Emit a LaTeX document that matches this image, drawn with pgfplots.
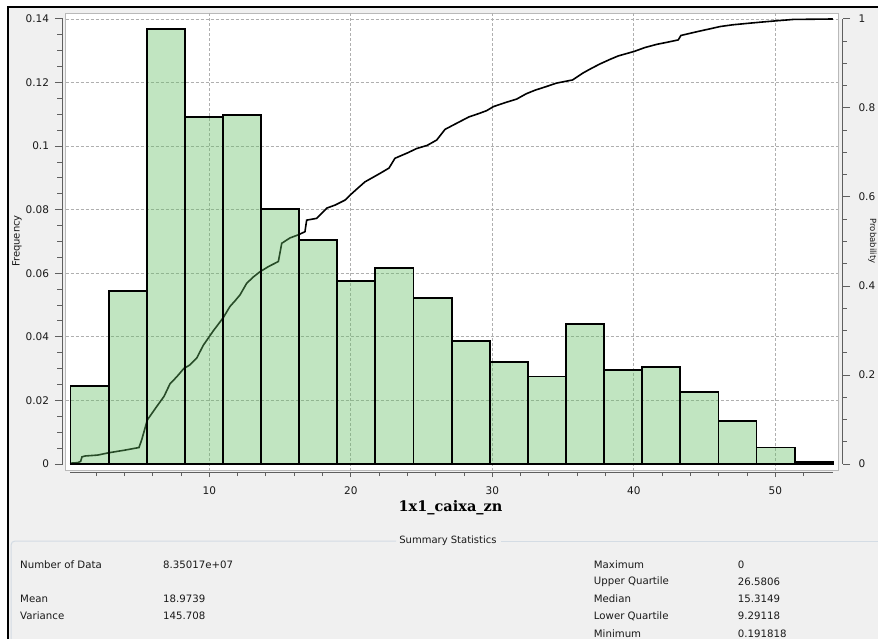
\documentclass[border=0pt]{standalone}
\usepackage{fontspec}
\setmainfont{DejaVu Sans}
\newfontfamily\xlfont{DejaVu Serif}
\usepackage{pgfplots}
\usepackage{pgfplotstable}
\pgfplotsset{compat=1.18}
\definecolor{bggray}{RGB}{240,240,240}
\definecolor{axgray}{RGB}{95,95,95}
\definecolor{gridgray}{RGB}{175,175,175}
\definecolor{txt}{RGB}{25,25,25}
\definecolor{barfill}{RGB}{100,190,100}
\definecolor{boxline}{RGB}{212,220,228}
\definecolor{framegray}{RGB}{185,185,185}

\pgfplotstableread{
x y
0.19 0.0246
2.8835 0.0544
5.577 0.1368
8.2705 0.1092
10.964 0.1097
13.6575 0.0802
16.351 0.0705
19.0445 0.0575
21.738 0.0617
24.4315 0.0522
27.125 0.0388
29.8185 0.0322
32.512 0.0275
35.2055 0.0440
37.899 0.0295
40.5925 0.0304
43.286 0.0226
45.9795 0.0136
48.673 0.0052
51.3665 0.0006
54.06 0
}\histdata

\pgfplotstableread{
x p
0.19 0.000
0.23 0.002
0.70 0.003
0.91 0.006
1.00 0.016
1.22 0.018
2.10 0.020
2.86 0.025
4.00 0.031
5.03 0.037
5.22 0.054
5.62 0.099
6.28 0.129
6.80 0.152
7.22 0.180
7.70 0.196
8.21 0.215
8.60 0.222
9.11 0.238
9.58 0.267
10.30 0.300
10.99 0.329
11.46 0.354
11.80 0.366
12.17 0.380
12.64 0.406
13.10 0.420
13.58 0.432
14.20 0.444
14.88 0.455
15.12 0.496
15.70 0.508
16.29 0.515
16.76 0.522
16.88 0.548
17.59 0.552
18.30 0.575
18.90 0.582
19.59 0.593
20.08 0.608
20.50 0.620
21.00 0.634
22.06 0.653
22.70 0.665
23.12 0.687
24.00 0.699
24.66 0.709
25.40 0.716
26.07 0.728
26.66 0.752
27.50 0.766
28.35 0.780
29.00 0.787
29.60 0.794
30.07 0.803
30.90 0.812
31.72 0.820
32.40 0.832
33.02 0.840
33.80 0.848
34.55 0.856
35.67 0.863
36.43 0.879
37.00 0.889
37.61 0.899
38.30 0.909
38.90 0.917
40.01 0.927
40.80 0.936
41.62 0.943
42.40 0.948
43.14 0.953
43.33 0.963
44.00 0.968
44.68 0.973
45.40 0.978
46.09 0.983
47.00 0.987
47.98 0.990
49.00 0.993
50.10 0.996
51.27 0.999
54.06 1.000
}\cdfdata

\begin{document}
\begin{tikzpicture}
\useasboundingbox (0pt,0pt) rectangle (878pt,-639pt);
\clip (0pt,0pt) rectangle (878pt,-639pt);
\fill[white] (0pt,0pt) rectangle (878pt,-639pt);
\fill[bggray] (8pt,-7pt) rectangle (878pt,-639pt);
\draw[black, line width=2pt] (8pt,-639pt) -- (8pt,-7pt) -- (878pt,-7pt);
\filldraw[fill=white, draw=framegray, line width=1.2pt] (65.7pt,-13.3pt) rectangle (838.3pt,-470.7pt);

% grid
\begin{axis}[
  at={(65.7pt,-470.7pt)}, anchor=south west,
  width=772.6pt, height=457.4pt, scale only axis,
  xmin=-0.148, xmax=54.452, ymin=-0.002108, ymax=0.14179,
  xtick={10,20,30,40,50}, ytick={0.02,0.04,0.06,0.08,0.1,0.12,0.14},
  xticklabels={}, yticklabels={},
  major tick length=0pt,
  tick style={draw=none},
  axis line style={draw=none},
  grid=major,
  major grid style={gridgray, dash pattern=on 3pt off 2pt, line width=0.9pt},
]
\addplot[draw=none] coordinates {(1,0)};
\end{axis}

% CDF + right axis
\begin{axis}[
  at={(70.49pt,-464pt)}, anchor=south west,
  width=762.26pt, height=445pt, scale only axis,
  xmin=0.19, xmax=54.06, ymin=0, ymax=1,
  axis x line=none,
  axis y line*=right,
  axis y line shift=9.95pt,
  ytick={0,0.2,0.4,0.6,0.8,1},
  yticklabels={0,0.2,0.4,0.6,0.8,1},
  minor ytick={0.05,0.1,0.15,0.25,0.3,0.35,0.45,0.5,0.55,0.65,0.7,0.75,0.85,0.9,0.95},
  tick align=outside,
  major tick length=7.3pt, minor tick length=4pt,
  axis line style={draw=axgray, line width=1.2pt},
  tick style={draw=axgray, line width=1pt},
  yticklabel style={font=\fontsize{10.5}{12}\selectfont, text=txt, xshift=5pt},
  clip=false,
]
\addplot[black, line width=1.6pt] table[x=x, y=p] {\cdfdata};
\end{axis}

% bars + x axis
\begin{axis}[
  at={(70.49pt,-464pt)}, anchor=south west,
  width=762.26pt, height=445pt, scale only axis,
  xmin=0.19, xmax=54.06, ymin=0, ymax=0.14,
  axis x line*=bottom, axis y line=none,
  axis x line shift=8.7pt,
  xtick={10,20,30,40,50}, xticklabels={10,20,30,40,50},
  minor xtick={2,4,6,8,12,14,16,18,22,24,26,28,32,34,36,38,42,44,46,48,52},
  tick align=outside,
  major tick length=4.5pt, minor tick length=3.5pt,
  axis line style={draw=axgray, line width=1.2pt},
  tick style={draw=axgray, line width=1pt},
  xticklabel style={font=\fontsize{10.5}{12}\selectfont, text=txt, yshift=-6pt},
  clip=false,
]
\addplot[ybar interval, fill=barfill, fill opacity=0.4, draw=black, line width=1.8pt] table[x=x, y=y] {\histdata};
\end{axis}

% left axis
\begin{axis}[
  at={(70.49pt,-464pt)}, anchor=south west,
  width=762.26pt, height=445pt, scale only axis,
  xmin=0.19, xmax=54.06, ymin=0, ymax=0.14,
  axis x line=none, axis y line*=left,
  axis y line shift=7.8pt,
  ytick={0,0.02,0.04,0.06,0.08,0.1,0.12,0.14},
  yticklabels={0,0.02,0.04,0.06,0.08,0.1,0.12,0.14},
  minor ytick={0.005,0.01,0.015,0.025,0.03,0.035,0.045,0.05,0.055,0.065,0.07,0.075,0.085,0.09,0.095,0.105,0.11,0.115,0.125,0.13,0.135},
  tick align=outside,
  major tick length=7.7pt, minor tick length=5.4pt,
  axis line style={draw=axgray, line width=1.2pt},
  tick style={draw=axgray, line width=1pt},
  yticklabel style={font=\fontsize{10.5}{12}\selectfont, text=txt, xshift=-2.5pt},
]
\addplot[draw=none] coordinates {(1,0)};
\end{axis}

% labels
\node[font=\fontsize{10}{12}\selectfont, text=txt, rotate=90] at (17pt,-241pt) {Frequency};
\node[font=\fontsize{8.5}{10}\selectfont, text=txt, rotate=-90, inner sep=0pt] at (872.5pt,-241pt) {Probability};
\node[font=\xlfont\bfseries\fontsize{14.5}{17}\selectfont, text=black] at (450.5pt,-508pt) {1x1\_caixa\_zn};

% summary box
\draw[boxline, line width=1pt, rounded corners=4pt] (396pt,-541pt) -- (11pt,-541pt) -- (11pt,-650pt);
\draw[boxline, line width=1pt] (501pt,-541pt) -- (885pt,-541pt);
\node[font=\fontsize{10}{12}\selectfont, text=txt] at (448pt,-541pt) {Summary Statistics};

\begin{scope}[every node/.style={font=\fontsize{10.2}{12}\selectfont, text=txt, anchor=west, inner sep=0pt}]
\node at (20pt,-564.3pt) {Number of Data};
\node at (163pt,-564.3pt) {8.35017e+07};
\node at (20pt,-599pt) {Mean};
\node at (163pt,-599pt) {18.9739};
\node at (20pt,-616pt) {Variance};
\node at (163pt,-616pt) {145.708};
\node at (593.7pt,-564.3pt) {Maximum};
\node at (737.7pt,-564.3pt) {0};
\node at (593.7pt,-581.7pt) {Upper Quartile};
\node at (737.7pt,-581.7pt) {26.5806};
\node at (593.7pt,-599pt) {Median};
\node at (737.7pt,-599pt) {15.3149};
\node at (593.7pt,-616pt) {Lower Quartile};
\node at (737.7pt,-616pt) {9.29118};
\node at (593.7pt,-633.3pt) {Minimum};
\node at (737.7pt,-633.3pt) {0.191818};
\end{scope}
\end{tikzpicture}
\end{document}
